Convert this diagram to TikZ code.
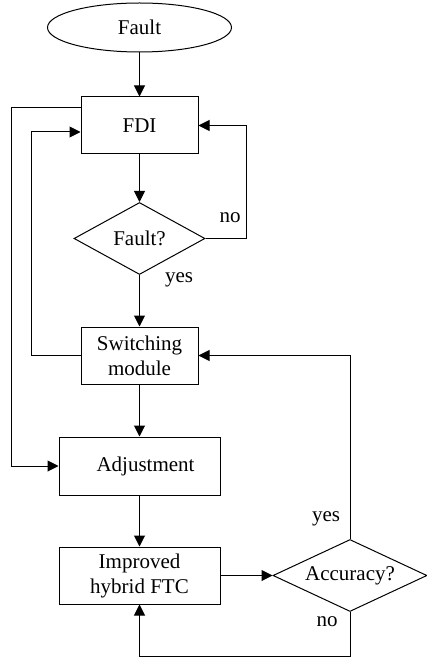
\documentclass[tikz,border=0pt]{standalone}
\usepackage{fontspec}
\setmainfont{Liberation Serif}
\usetikzlibrary{shapes.geometric,arrows.meta,calc}
\tikzset{
  base/.style={draw, line width=1pt, font=\fontsize{21}{25}\selectfont, inner sep=0pt, align=center},
  boxnode/.style={base, rectangle, minimum width=#1, minimum height=57},
  decision/.style={base, diamond, aspect=2, minimum width=#1, minimum height=72},
  terminal/.style={base, ellipse, minimum width=184, minimum height=49},
  arr/.style={draw, line width=1pt, -{Triangle[length=11pt,width=11pt]}},
  plain/.style={draw, line width=1pt},
  lbl/.style={font=\fontsize{21}{25}\selectfont, inner sep=0pt}
}
\begin{document}
\begin{tikzpicture}[x=1pt,y=-1pt]
  \useasboundingbox (0,0) rectangle (427,660);

  % main column
  \node[terminal] (fault) at (139.5,27.5) {Fault};
  \node[boxnode=117] (fdi) at (139.5,125.5) {FDI};
  \node[decision=131] (q1) at (139.5,238.5) {Fault?};
  \node[boxnode=117] (sw) at (139.5,355.5) {Switching\\module};
  \node[boxnode=161, minimum height=58] (adj) at (139.5,466) {\hspace*{12pt}Adjustment};
  \node[boxnode=161] (ftc) at (139.5,575.5) {Improved\\hybrid FTC};
  \node[decision=154] (q2) at (350,575.5) {Accuracy?};

  % return rails on the left
  \coordinate (outer) at (11,0);
  \coordinate (inner) at (31,0);

  % forward flow
  \draw[arr] (fault) -- (fdi);
  \draw[arr] (fdi) -- (q1);
  \draw[arr] (q1) -- (sw);
  \draw[arr] (sw) -- (adj);
  \draw[arr] (adj) -- (ftc);
  \draw[arr] (ftc.east) -- (q2.west);

  % fault check loop
  \draw[arr] (q1.east) -- ++(41,0) |- (fdi.east);

  % left-side links
  \draw[arr] ([yshift=17.5pt]fdi.west) -- ([yshift=17.5pt]fdi.west -| outer) |- (adj.west);
  \draw[arr] (sw.west) -- (sw.west -| inner) |- ([yshift=-6.5pt]fdi.west);

  % accuracy check
  \draw[arr] (q2.north) -- (q2.north |- sw.east) -- (sw.east);
  \draw[arr] (q2.south) -- ++(0,44) -| (ftc.south);

  % branch labels
  \node[lbl] (l1) at (230,218) {no};
  \node[lbl] (l2) at (179,280) {yes};
  \node[lbl] (l3) at (326,519) {yes};
  \node[lbl] (l4) at (327,622) {no};
\end{tikzpicture}
\end{document}
